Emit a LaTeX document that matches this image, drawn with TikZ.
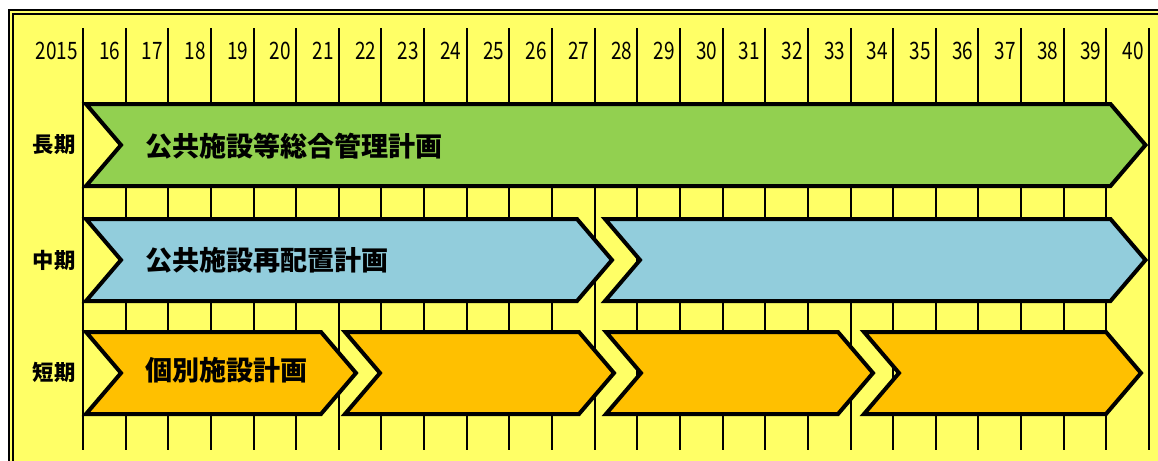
\documentclass[tikz,border=0pt]{standalone}
\usepackage{fontspec}
\newfontfamily\cjk{Noto Sans CJK JP}
\definecolor{bgyellow}{HTML}{FFFF66}
\definecolor{bargreen}{HTML}{92D050}
\definecolor{barblue}{HTML}{92CDDC}
\definecolor{barorange}{HTML}{FFC000}
\newcommand\mychev[6]{%
  \filldraw[bar,fill=#2] (#3,#5) -- ({#4-35},#5) -- (#4,{(#5+#6)/2}) -- ({#4-35},#6) -- (#3,#6) -- ({#3+35},{(#5+#6)/2}) -- cycle;
  \coordinate (#1) at ({(#3+#4)/2},{(#5+#6)/2});}
\begin{document}
\begin{tikzpicture}[x=0.75pt,y=-0.75pt,
  bar/.style={draw=black, line width=3pt, line join=miter},
  gridline/.style={line width=1.5pt, black},
  yr/.style={anchor=east, inner sep=0pt, font=\cjk\fontsize{18}{18}\selectfont},
  rowlbl/.style={anchor=center, inner sep=0pt, font=\cjk\bfseries\fontsize{16}{16}\selectfont},
  bartxt/.style={anchor=west, inner sep=0pt, font=\cjk\bfseries\fontsize{20.3}{20.3}\selectfont}]
\useasboundingbox (0,0) rectangle (1158,461);
\clip (0,0) rectangle (1158,461);
\fill[white] (0,0) rectangle (1158,461);
\fill[bgyellow] (8,9) rectangle (1175,475);
\draw[line width=1.5pt] (9,10) rectangle (1175,475);
\draw[line width=1.5pt] (13,14) rectangle (1175,475);
% grid
\foreach \k in {0,...,25}{
  \draw[gridline] ({83+42.64*\k},28) -- ({83+42.64*\k},450);
}
% years
\foreach \k/\t in {0/2015,1/16,2/17,3/18,4/19,5/20,6/21,7/22,8/23,9/24,10/25,11/26,12/27,13/28,14/29,15/30,16/31,17/32,18/33,19/34,20/35,21/36,22/37,23/38,24/39,25/40}{
  \node[yr] (yr\k) at ({83+42.64*\k-5},50.5) {\scalebox{0.79}[1]{\t}};
}
% bars
\mychev{long}{bargreen}{86}{1145.5}{104}{186}
\mychev{midA}{barblue}{86}{612}{219}{301}
\mychev{midB}{barblue}{605}{1145.5}{219}{301}
\mychev{shA}{barorange}{86}{356}{332}{414}
\mychev{shB}{barorange}{345}{614}{332}{414}
\mychev{shC}{barorange}{606}{873}{332}{414}
\mychev{shD}{barorange}{864}{1141}{332}{414}
% row labels
\node[rowlbl] (lblL) at (54,145) {長期};
\node[rowlbl] (lblM) at (54,260) {中期};
\node[rowlbl] (lblS) at (54,372.5) {短期};
% bar texts
\node[bartxt] (txtL) at (145,146) {公共施設等総合管理計画};
\node[bartxt] (txtM) at (145,260.5) {公共施設再配置計画};
\node[bartxt] (txtS) at (145,370.5) {個別施設計画};
\end{tikzpicture}
\end{document}
